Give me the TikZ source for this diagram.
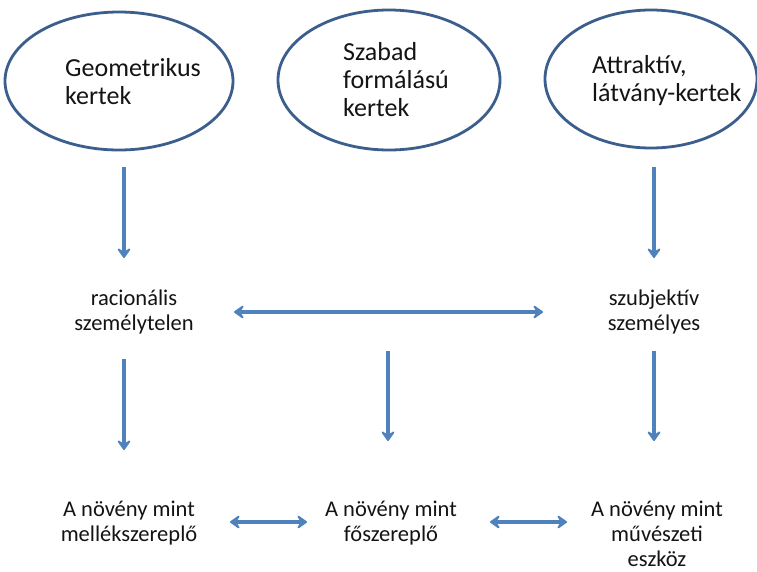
\documentclass[tikz,border=0pt]{standalone}
\usepackage{fontspec}
\setmainfont{Carlito}
\usetikzlibrary{arrows.meta,shapes.geometric}
\definecolor{ringblue}{HTML}{3B5E8C}
\definecolor{arrowblue}{HTML}{4F81BD}
\definecolor{txt}{HTML}{141414}

\begin{document}
\begin{tikzpicture}[x=1pt,y=-1pt,
  ring/.style={ellipse, draw=ringblue, line width=2.8pt, inner sep=0pt},
  bigtext/.style={inner sep=0pt, align=left, anchor=west, text=txt,
    font=\fontsize{26}{28}\selectfont},
  smalltext/.style={inner sep=0pt, align=center, text=txt,
    font=\fontsize{22.5}{25}\selectfont},
  tip/.tip={Stealth[length=12pt,width=17pt,inset=5pt,round]},
  arr/.style={draw=arrowblue, line width=3.5pt, -tip},
  darr/.style={draw=arrowblue, line width=3.5pt, tip-tip},
]
\useasboundingbox (0,0) rectangle (757,571);
\fill[white] (0,0) rectangle (757,571);

% the three garden types
\node[ring, minimum width=228pt, minimum height=138pt] (geoEll)  at (119,81) {};
\node[ring, minimum width=222pt, minimum height=140pt] (szabEll) at (389,80) {};
\node[ring, minimum width=212pt, minimum height=138pt] (attrEll) at (651,79) {};

\node[bigtext] (geoTxt)  at (65,82)  {Geometrikus\\kertek};
\node[bigtext] (szabTxt) at (343,80) {Szabad\\formálású\\kertek};
\node[bigtext] (attrTxt) at (592,81) {Attraktív,\\látvány-kertek};

% attitudes
\node[smalltext] (racTxt)  at (134,312) {racionális\\személytelen};
\node[smalltext] (szubTxt) at (654,312) {szubjektív\\személyes};

% role of the plant
\node[smalltext, anchor=north] (mellTxt) at (129,501) {A növény mint\\mellékszereplő};
\node[smalltext, anchor=north] (foTxt)   at (391,501) {A növény mint\\főszereplő};
\node[smalltext, anchor=north] (muvTxt)  at (657,501) {A növény mint\\művészeti\\eszköz};

% arrow end points
\coordinate (a1s) at (124,167); \coordinate (a1e) at (124,258);
\coordinate (a2s) at (654,167); \coordinate (a2e) at (654,258);
\coordinate (h1s) at (234,312); \coordinate (h1e) at (543,312);
\coordinate (b1s) at (124,359); \coordinate (b1e) at (124,450);
\coordinate (b2s) at (388,351); \coordinate (b2e) at (388,441);
\coordinate (b3s) at (654,351); \coordinate (b3e) at (654,441);
\coordinate (l1s) at (230,522); \coordinate (l1e) at (307,522);
\coordinate (l2s) at (490,522); \coordinate (l2e) at (567,522);

\draw[arr] (a1s) -- (a1e);
\draw[arr] (a2s) -- (a2e);
\draw[darr] (h1s) -- (h1e);
\draw[arr] (b1s) -- (b1e);
\draw[arr] (b2s) -- (b2e);
\draw[arr] (b3s) -- (b3e);
\draw[darr] (l1s) -- (l1e);
\draw[darr] (l2s) -- (l2e);
\end{tikzpicture}
\end{document}
